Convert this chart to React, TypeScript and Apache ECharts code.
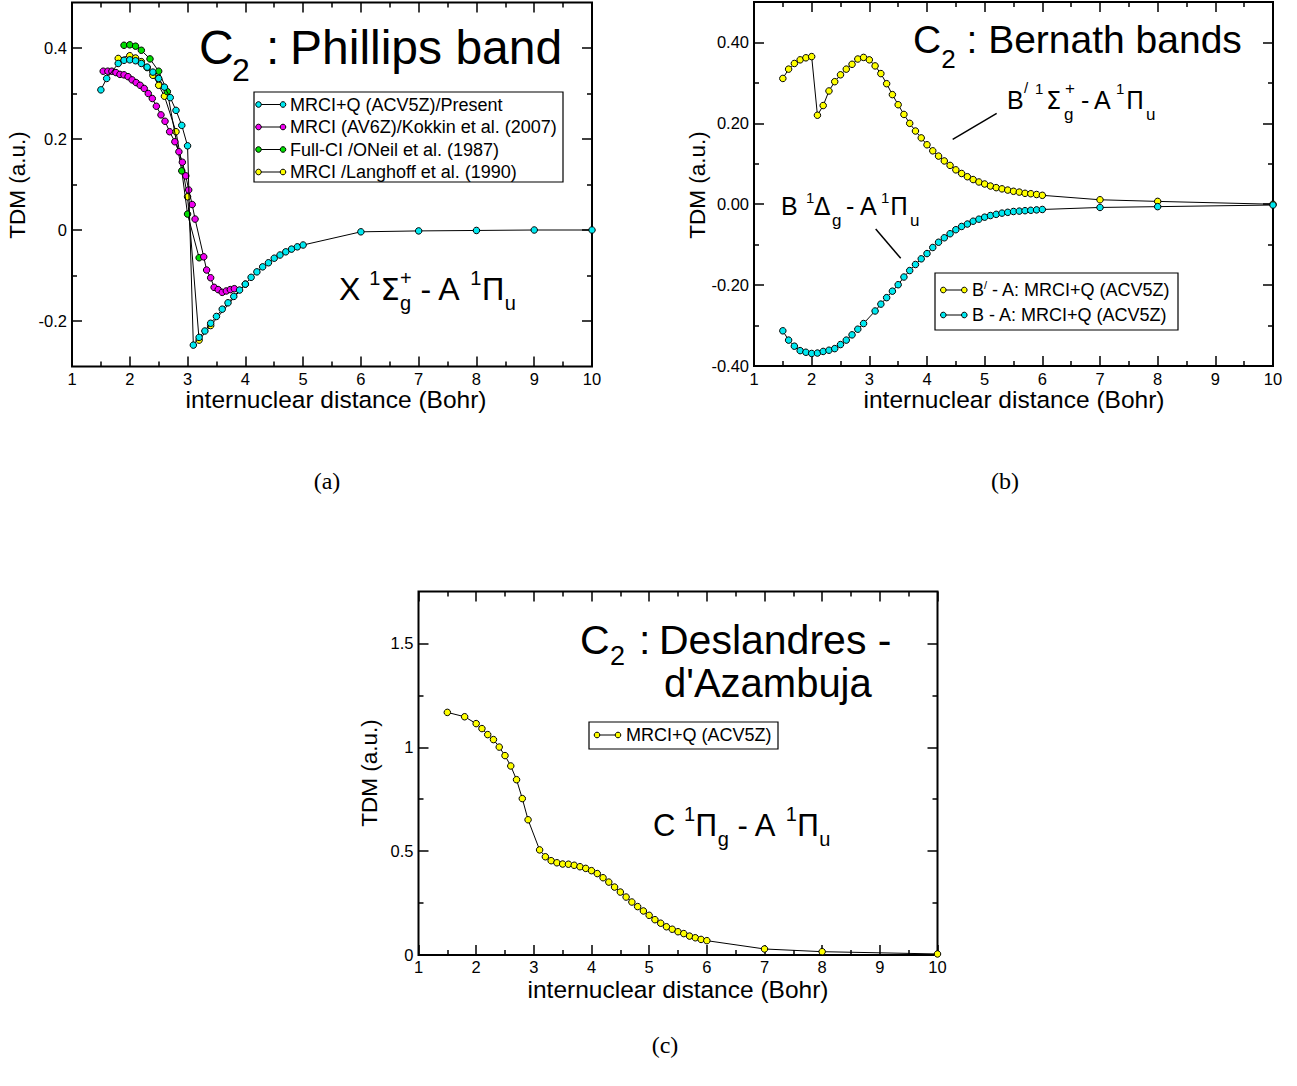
import React, { useEffect, useRef } from 'react';
import * as echarts from 'echarts';

const SANS = '"Liberation Sans", Arial, Helvetica, sans-serif';
const GREEK = '"DejaVu Sans", "Liberation Sans", sans-serif';
const SERIF = '"Liberation Serif", "DejaVu Serif", serif';

// ---------------- tick values ----------------
const xTickMajor = [1, 2, 3, 4, 5, 6, 7, 8, 9, 10];
const xTickMinor = [1.5, 2.5, 3.5, 4.5, 5.5, 6.5, 7.5, 8.5, 9.5];
const aYTickMajor = [-0.2, 0, 0.2, 0.4];
const aYTickMinor = [-0.1, 0.1, 0.3];
const bYTickMajor = [-0.4, -0.2, 0, 0.2, 0.4];
const bYTickMinor = [-0.3, -0.1, 0.1, 0.3];
const cYTickMajor = [0, 0.5, 1, 1.5];
const cYTickMinor = [0.25, 0.75, 1.25];

// ---------------- panel (a): X-A Phillips band ----------------
const aPresentR = [1.5, 1.6, 1.8, 1.9, 2.0, 2.1, 2.2, 2.3, 2.4, 2.5, 2.6, 2.7, 2.8, 2.9, 3.0, 3.1, 3.2, 3.3, 3.4, 3.5, 3.6, 3.7, 3.8, 3.9, 4.0, 4.1, 4.2, 4.3, 4.4, 4.5, 4.6, 4.7, 4.8, 4.9, 5.0, 6, 7, 8, 9, 10];
const aPresentTDM = [0.308, 0.333, 0.366, 0.373, 0.374, 0.372, 0.366, 0.358, 0.347, 0.333, 0.314, 0.291, 0.263, 0.230, 0.185, -0.253, -0.236, -0.222, -0.205, -0.190, -0.174, -0.160, -0.146, -0.132, -0.119, -0.104, -0.092, -0.081, -0.072, -0.062, -0.055, -0.048, -0.042, -0.037, -0.033, -0.004, -0.002, -0.001, 0, 0];
const aKokkinR = [1.54, 1.62, 1.69, 1.76, 1.83, 1.90, 1.97, 2.04, 2.11, 2.18, 2.25, 2.32, 2.39, 2.46, 2.54, 2.61, 2.69, 2.78, 2.85, 2.91, 2.97, 3.02, 3.08, 3.13, 3.28, 3.33, 3.40, 3.46, 3.53, 3.60, 3.67, 3.74, 3.81];
const aKokkinTDM = [0.349, 0.349, 0.349, 0.346, 0.342, 0.341, 0.337, 0.330, 0.324, 0.318, 0.311, 0.300, 0.289, 0.272, 0.253, 0.239, 0.216, 0.194, 0.172, 0.149, 0.119, 0.088, 0.056, 0.024, -0.059, -0.088, -0.105, -0.126, -0.131, -0.137, -0.134, -0.131, -0.129];
const aONeilR = [1.9, 2.0, 2.1, 2.2, 2.35, 2.5, 2.65, 2.9, 3.0, 3.2];
const aONeilTDM = [0.406, 0.407, 0.404, 0.395, 0.376, 0.349, 0.304, 0.130, 0.035, -0.061];
const aLanghoffR = [1.8, 2.0, 2.1, 2.2, 2.3, 2.4, 2.5, 2.6, 2.8, 3.0, 3.2, 3.4, 4.0];
const aLanghoffTDM = [0.377, 0.383, 0.378, 0.370, 0.357, 0.340, 0.318, 0.294, 0.216, 0.073, -0.242, -0.210, -0.119];

// ---------------- panel (b): Bernath bands ----------------
const bBprimeR = [1.5, 1.6, 1.7, 1.8, 1.9, 2.0, 2.1, 2.2, 2.3, 2.4, 2.5, 2.6, 2.7, 2.8, 2.9, 3.0, 3.1, 3.2, 3.3, 3.4, 3.5, 3.6, 3.7, 3.8, 3.9, 4.0, 4.1, 4.2, 4.3, 4.4, 4.5, 4.6, 4.7, 4.8, 4.9, 5.0, 5.1, 5.2, 5.3, 5.4, 5.5, 5.6, 5.7, 5.8, 5.9, 6.0, 7, 8, 10];
const bBprimeTDM = [0.311, 0.334, 0.348, 0.357, 0.362, 0.365, 0.220, 0.244, 0.280, 0.303, 0.320, 0.334, 0.346, 0.359, 0.363, 0.357, 0.342, 0.323, 0.298, 0.271, 0.246, 0.222, 0.200, 0.181, 0.164, 0.147, 0.132, 0.119, 0.107, 0.096, 0.085, 0.076, 0.068, 0.061, 0.055, 0.050, 0.045, 0.041, 0.038, 0.035, 0.032, 0.030, 0.027, 0.026, 0.024, 0.022, 0.011, 0.007, 0.000];
const bBR = [1.5, 1.6, 1.7, 1.8, 1.9, 2.0, 2.1, 2.2, 2.3, 2.4, 2.5, 2.6, 2.7, 2.8, 2.9, 3.1, 3.2, 3.3, 3.4, 3.5, 3.6, 3.7, 3.8, 3.9, 4.0, 4.1, 4.2, 4.3, 4.4, 4.5, 4.6, 4.7, 4.8, 4.9, 5.0, 5.1, 5.2, 5.3, 5.4, 5.5, 5.6, 5.7, 5.8, 5.9, 6.0, 7, 8, 10];
const bBTDM = [-0.313, -0.336, -0.351, -0.362, -0.366, -0.369, -0.368, -0.364, -0.361, -0.357, -0.347, -0.336, -0.323, -0.309, -0.295, -0.264, -0.247, -0.231, -0.215, -0.199, -0.180, -0.164, -0.149, -0.135, -0.122, -0.107, -0.094, -0.083, -0.073, -0.063, -0.055, -0.049, -0.042, -0.037, -0.032, -0.028, -0.025, -0.022, -0.020, -0.018, -0.017, -0.016, -0.015, -0.014, -0.013, -0.008, -0.006, -0.002];

// ---------------- panel (c): Deslandres - d'Azambuja ----------------
const cR = [1.5, 1.8, 2.0, 2.1, 2.2, 2.3, 2.4, 2.5, 2.6, 2.7, 2.8, 2.9, 3.1, 3.2, 3.3, 3.4, 3.5, 3.6, 3.7, 3.8, 3.9, 4.0, 4.1, 4.2, 4.3, 4.4, 4.5, 4.6, 4.7, 4.8, 4.9, 5.0, 5.1, 5.2, 5.3, 5.4, 5.5, 5.6, 5.7, 5.8, 5.9, 6.0, 7, 8, 10];
const cTDM = [1.168, 1.147, 1.114, 1.090, 1.061, 1.037, 1.001, 0.960, 0.910, 0.844, 0.753, 0.651, 0.506, 0.473, 0.454, 0.444, 0.438, 0.437, 0.432, 0.425, 0.417, 0.406, 0.392, 0.372, 0.351, 0.327, 0.303, 0.279, 0.255, 0.233, 0.212, 0.191, 0.170, 0.153, 0.136, 0.124, 0.112, 0.103, 0.091, 0.083, 0.075, 0.069, 0.029, 0.016, 0.005];

const legendA = ['MRCI+Q (ACV5Z)/Present', 'MRCI (AV6Z)/Kokkin et al. (2007)', 'Full-CI /ONeil et al. (1987)', 'MRCI /Langhoff et al. (1990)'];
const legendB = [' - A: MRCI+Q (ACV5Z)', 'B - A: MRCI+Q (ACV5Z)'];
const legendC = ['MRCI+Q (ACV5Z)'];

const CYAN = '#00e8f0';
const MAGENTA = '#f000f0';
const GREEN = '#00dd00';
const YELLOW = '#ffff00';

type Piece = { t: string; s: number; dy?: number; dx?: number; stack?: boolean; g?: boolean };

function buildOption() {
  const cvs = document.createElement('canvas');
  const ctx = cvs.getContext('2d') as CanvasRenderingContext2D;
  const mw = (t: string, s: number, fam: string) => {
    ctx.font = `${s}px ${fam}`;
    return ctx.measureText(t).width;
  };

  const T = (text: string, x: number, base: number, size: number, fam: string = SANS) => ({
    type: 'text',
    x,
    y: base - 0.3465 * size,
    silent: true,
    z: 20,
    style: { text, fontFamily: fam, fontSize: size, fill: '#000', align: 'left', verticalAlign: 'middle' },
  });
  const G = (text: string, x: number, base: number, size: number) => T(text, x, base, size, GREEK);

  const flow = (x0: number, base: number, parts: Piece[]) => {
    let x = x0;
    const out: any[] = [];
    for (const p of parts) {
      x += p.dx || 0;
      const fam = p.g ? GREEK : SANS;
      if (p.t.trim() !== '') out.push(T(p.t, x, base + (p.dy || 0), p.s, fam));
      if (!p.stack) x += mw(p.t, p.s, fam);
    }
    return out;
  };

  const axes = (dim: 'x' | 'y', gridIndex: number, min: number, max: number, major: number[], minor: number[], fmt: (v: number) => string, margin: number) => {
    const posA = dim === 'x' ? 'bottom' : 'left';
    const posB = dim === 'x' ? 'top' : 'right';
    const base = {
      type: 'value',
      gridIndex,
      min,
      max,
      splitLine: { show: false },
      axisLine: { show: false, onZero: false },
      axisPointer: { show: false },
      silent: true,
    };
    const tick = (vals: number[], len: number) => ({ show: true, inside: true, length: len, customValues: vals, lineStyle: { color: '#000', width: 1.5 } });
    return [
      {
        ...base,
        position: posA,
        axisTick: tick(major, 10),
        axisLabel: { show: true, customValues: major, formatter: fmt, color: '#000', fontFamily: SANS, fontSize: 16.5, margin },
      },
      { ...base, position: posA, axisTick: tick(minor, 5), axisLabel: { show: false } },
      { ...base, position: posB, axisTick: tick(major, 10), axisLabel: { show: false } },
      { ...base, position: posB, axisTick: tick(minor, 5), axisLabel: { show: false } },
    ];
  };

  const fmtX = (v: number) => String(Math.round(v));
  const fmtA = (v: number) => (Math.abs(v) < 1e-9 ? '0' : v.toFixed(1));
  const fmtB = (v: number) => (Math.abs(v) < 1e-9 ? '0.00' : v.toFixed(2));
  const fmtC = (v: number) => String(v);

  const series = (name: string, xs: number[], ys: number[], color: string, panel: number, z = 3) => ({
    type: 'line',
    name,
    xAxisIndex: panel * 4,
    yAxisIndex: panel * 4,
    data: xs.map((x, i) => [x, ys[i]]),
    symbol: 'circle',
    symbolSize: 6.5,
    showSymbol: true,
    showAllSymbol: true,
    clip: false,
    silent: true,
    z,
    lineStyle: { color: '#000', width: 1 },
    itemStyle: { color, borderColor: '#000', borderWidth: 1 },
    emphasis: { disabled: true },
  });

  const legendRow = (x1: number, x2: number, y: number, color: string) => [
    { type: 'line', silent: true, z: 21, shape: { x1, y1: y, x2, y2: y }, style: { stroke: '#000', lineWidth: 1 } },
    { type: 'circle', silent: true, z: 22, shape: { cx: x1, cy: y, r: 2.8 }, style: { fill: color, stroke: '#000', lineWidth: 1 } },
    { type: 'circle', silent: true, z: 22, shape: { cx: x2, cy: y, r: 2.8 }, style: { fill: color, stroke: '#000', lineWidth: 1 } },
  ];
  const box = (x: number, y: number, width: number, height: number) => ({
    type: 'rect', silent: true, z: 19, shape: { x, y, width, height }, style: { fill: '#fff', stroke: '#000', lineWidth: 1.2 },
  });
  const centered = (text: string, x: number, y: number, size: number, fam: string, rot = 0) => ({
    type: 'text', silent: true, x, y, rotation: rot, z: 20,
    style: { text, fontFamily: fam, fontSize: size, fill: '#000', align: 'center', verticalAlign: 'middle' },
  });

  const LF = 18;
  const AX = 24.5;
  const graphics: any[] = [];

  // ---- panel (a) texts ----
  graphics.push(T('C', 199, 64, 48), T('2', 232, 81, 32), T(':', 266, 64, 48), T('Phillips band', 290, 64, 48));
  graphics.push(
    ...flow(339, 300, [
      { t: 'X', s: 32 }, { t: ' ', s: 32 }, { t: '1', s: 20, dy: -15 }, { t: 'Σ', s: 31, g: true },
      { t: 'g', s: 20, dy: 10, stack: true }, { t: '+', s: 20, dy: -15 },
      { t: ' - A ', s: 32 }, { t: '1', s: 20, dy: -15 }, { t: 'Π', s: 31, g: true }, { t: 'u', s: 20, dy: 10 },
    ])
  );
  graphics.push(box(254, 92, 309, 90));
  const aRows = [104.5, 127, 149.5, 172];
  const aColors = [CYAN, MAGENTA, GREEN, YELLOW];
  aRows.forEach((y, i) => {
    graphics.push(...legendRow(258.5, 283, y, aColors[i]));
    graphics.push(T(legendA[i], 290, y + 6.5, LF));
  });
  graphics.push(centered('TDM (a.u.)', 17, 185, 22.5, SANS, Math.PI / 2));
  graphics.push(centered('internuclear distance (Bohr)', 336, 408 - 0.3465 * AX, AX, SANS));
  graphics.push(centered('(a)', 327, 481, 24, SERIF));

  // ---- panel (b) texts ----
  graphics.push(...flow(913, 53, [{ t: 'C', s: 39 }, { t: '2', s: 26, dy: 15 }, { t: ' : Bernath bands', s: 39 }]));
  graphics.push(
    T('B', 1007, 109, 25), T('/', 1024, 93, 15), T('1', 1035, 94, 15), G('Σ', 1046, 109, 24),
    T('g', 1064, 120, 17), T('+', 1065, 94, 17), T('-', 1081, 109, 25), T('A', 1094, 109, 25),
    T('1', 1116, 94, 15), G('Π', 1126, 109, 24), T('u', 1146, 120, 17)
  );
  graphics.push(
    T('B', 781, 215, 25), T('1', 806, 203, 15), G('Δ', 814, 215, 24), T('g', 832, 226, 17),
    T('-', 846, 215, 25), T('A', 860, 215, 25), T('1', 881, 203, 15), G('Π', 890, 215, 24), T('u', 910, 226, 17)
  );
  graphics.push({ type: 'line', silent: true, z: 20, shape: { x1: 952.7, y1: 139.3, x2: 996.7, y2: 113.3 }, style: { stroke: '#000', lineWidth: 1.5 } });
  graphics.push({ type: 'line', silent: true, z: 20, shape: { x1: 875.7, y1: 229, x2: 900.7, y2: 258.3 }, style: { stroke: '#000', lineWidth: 1.5 } });
  graphics.push(box(935, 273, 243, 57));
  graphics.push(...legendRow(943.3, 964.3, 290, YELLOW));
  graphics.push(T('B', 972, 296.5, LF), T('/', 984, 289, 11), T(legendB[0], 987, 296.5, LF));
  graphics.push(...legendRow(943.3, 964.3, 315, CYAN));
  graphics.push(T(legendB[1], 972, 321.5, LF));
  graphics.push(centered('TDM (a.u.)', 697, 185, 22.5, SANS, Math.PI / 2));
  graphics.push(centered('internuclear distance (Bohr)', 1014, 408 - 0.3465 * AX, AX, SANS));
  graphics.push(centered('(b)', 1005, 481, 24, SERIF));

  // ---- panel (c) texts ----
  graphics.push(
    T('C', 580, 654, 41), T('2', 610, 665, 27), T(':', 639, 654, 41), T('Deslandres -', 659, 654, 41),
    T("d'Azambuja", 664, 697, 40)
  );
  graphics.push(
    ...flow(653, 836, [
      { t: 'C', s: 31 }, { t: ' ', s: 31 }, { t: '1', s: 20, dy: -15 }, { t: 'Π', s: 30, g: true }, { t: 'g', s: 20, dy: 10 },
      { t: ' - A ', s: 31 }, { t: '1', s: 20, dy: -15 }, { t: 'Π', s: 30, g: true }, { t: 'u', s: 20, dy: 10 },
    ])
  );
  graphics.push(box(589, 722, 189, 27));
  graphics.push(...legendRow(597, 618, 735, YELLOW));
  graphics.push(T(legendC[0], 626, 741.5, LF));
  graphics.push(centered('TDM (a.u.)', 369, 773, 22.5, SANS, Math.PI / 2));
  graphics.push(centered('internuclear distance (Bohr)', 678, 998 - 0.3465 * AX, AX, SANS));
  graphics.push(centered('(c)', 665, 1045, 24, SERIF));

  const gridStyle = { show: true, borderColor: '#000', borderWidth: 2, backgroundColor: 'transparent', containLabel: false, outerBoundsMode: 'none' };

  return {
    animation: false,
    backgroundColor: '#fff',
    textStyle: { fontFamily: SANS },
    grid: [
      { ...gridStyle, left: 72, top: 2.5, width: 520, height: 364 },
      { ...gridStyle, left: 754, top: 2, width: 519, height: 364 },
      { ...gridStyle, left: 418.5, top: 591.5, width: 519, height: 363.5 },
    ],
    xAxis: [
      ...axes('x', 0, 1, 10, xTickMajor, xTickMinor, fmtX, 4),
      ...axes('x', 1, 1, 10, xTickMajor, xTickMinor, fmtX, 4),
      ...axes('x', 2, 1, 10, xTickMajor, xTickMinor, fmtX, 3),
    ],
    yAxis: [
      ...axes('y', 0, -0.3, 0.5, aYTickMajor, aYTickMinor, fmtA, 5),
      ...axes('y', 1, -0.4, 0.5, bYTickMajor, bYTickMinor, fmtB, 5),
      ...axes('y', 2, 0, 1.75, cYTickMajor, cYTickMinor, fmtC, 5),
    ],
    series: [
      series('Langhoff', aLanghoffR, aLanghoffTDM, YELLOW, 0, 3),
      series('ONeil', aONeilR, aONeilTDM, GREEN, 0, 4),
      series('Kokkin', aKokkinR, aKokkinTDM, MAGENTA, 0, 5),
      series('Present', aPresentR, aPresentTDM, CYAN, 0, 6),
      series('Bprime-A', bBprimeR, bBprimeTDM, YELLOW, 1),
      series('B-A', bBR, bBTDM, CYAN, 1),
      series('C-A', cR, cTDM, YELLOW, 2),
    ],
    graphic: { elements: graphics },
  };
}

export default function App() {
  const ref = useRef<HTMLDivElement>(null);
  useEffect(() => {
    if (!ref.current) return;
    const chart = echarts.init(ref.current, null, { renderer: 'svg' });
    chart.setOption(buildOption() as any);
    return () => chart.dispose();
  }, []);
  return <div ref={ref} style={{ position: 'absolute', left: 0, top: 0, width: 1297, height: 1086, background: '#fff' }} />;
}
